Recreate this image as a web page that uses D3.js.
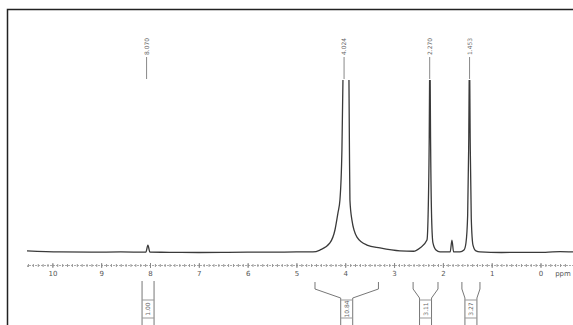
<!DOCTYPE html>
<html>
<head>
<meta charset="utf-8">
<script src="https://cdn.jsdelivr.net/npm/d3@7"></script>
<style>
  body { margin: 0; background: #fff; }
  svg { display: block; }
  .axis-text { font-family: 'DejaVu Sans', sans-serif; font-size: 7px; fill: #555; }
  .peak-text { font-family: 'DejaVu Sans', sans-serif; font-size: 6px; fill: #666; }
</style>
</head>
<body>
<div id="spectrum"></div>
<script>
// spectrum trace: chemical shift (ppm) and intensity (0 = baseline, 100 = top of plot)
const tracePpm = [10.52, 9.85, 9.2, 8.6, 8.2, 8.084, 8.043, 8.002, 7.6, 7.0, 6.4, 6.0, 5.5, 5.0,
  4.662, 4.518, 4.314, 4.211, 4.150, 4.109, 4.068, 4.047, 3.986, 3.924, 3.914, 3.904, 3.863, 3.760,
  3.555, 3.289, 2.879, 2.6, 2.469, 2.326, 2.300, 2.282, 2.272, 2.266, 2.260, 2.250, 2.230, 2.203, 2.141,
  2.059, 1.850, 1.814, 1.780, 1.650, 1.568, 1.527, 1.492, 1.472, 1.461, 1.455, 1.449, 1.438, 1.418,
  1.383, 1.322, 1.240, 0.8, 0.3, -0.1, -0.4, -0.666];
const traceInt = [1.2, 0.6, 0.5, 0.6, 0.5, 0.5, 4.6, 0.5, 0.4, 0.3, 0.4, 0.5, 0.5, 0.6,
  0.6, 1.7, 5.8, 13.3, 23.1, 30.6, 59.5, 100, 400, 100, 59.5, 30.6, 19, 9.2,
  4.6, 2.9, 1.2, 1.0, 2.9, 7.5, 25, 59.5, 100, 400, 100, 59.5, 20, 5.8, 1.7,
  0.6, 0.6, 7.5, 0.6, 0.6, 1.7, 5.8, 22, 59.5, 100, 400, 100, 59.5, 20,
  4.6, 1.2, 0.6, 0.3, 0.4, 0.4, 0.8, 0.6];

// peak picking labels
const peakPpm = [8.070, 4.024, 2.270, 1.453];
const peakLabels = ['8.070', '4.024', '2.270', '1.453'];

// integral regions
const intFrom = [8.10, 4.62, 2.61, 1.61];
const intTo = [7.98, 3.32, 2.10, 1.24];
const intValues = ['1.00', '10.84', '3.11', '3.27'];

// axis ticks
const majorTicks = [10, 9, 8, 7, 6, 5, 4, 3, 2, 1, 0];
const minorTicks = d3.range(105, -6, -1).map(d => d / 10);

const width = 573, height = 325;
const plotTop = 80, baseY = 253, axisY = 265;

const svg = d3.select('#spectrum')
  .append('svg')
  .attr('width', width)
  .attr('height', height);

const x = d3.scaleLinear().domain([10.52, -0.666]).range([27, 573]);
const y = d3.scaleLinear().domain([0, 100]).range([baseY, plotTop]);

// frame (top and left edge only)
svg.append('path')
  .attr('d', 'M7.5,' + height + 'V9.5H' + width)
  .attr('fill', 'none')
  .attr('stroke', '#222')
  .attr('stroke-width', 1.5);

svg.append('clipPath')
  .attr('id', 'plot-clip')
  .append('rect')
  .attr('x', 8)
  .attr('y', plotTop)
  .attr('width', width - 8)
  .attr('height', baseY - plotTop + 20);

// spectrum line
const line = d3.line()
  .x((d, i) => x(tracePpm[i]))
  .y((d, i) => y(traceInt[i]))
  .curve(d3.curveMonotoneX);

svg.append('path')
  .datum(tracePpm)
  .attr('clip-path', 'url(#plot-clip)')
  .attr('d', line)
  .attr('fill', 'none')
  .attr('stroke', '#3a3a3a')
  .attr('stroke-width', 1.3);

// x axis, minor ticks then labelled major ticks
const minorAxis = svg.append('g')
  .attr('transform', 'translate(0,' + axisY + ')')
  .call(d3.axisBottom(x).tickValues(minorTicks).tickSize(2).tickFormat(''));
minorAxis.select('path').attr('stroke', '#aaa').attr('stroke-dasharray', '2,1');
minorAxis.selectAll('g.tick line').attr('stroke', '#999').attr('y1', -1);

const majorAxis = svg.append('g')
  .attr('transform', 'translate(0,' + axisY + ')')
  .call(d3.axisBottom(x).tickValues(majorTicks).tickSize(3).tickPadding(3).tickFormat(d3.format('d')));
majorAxis.select('path').remove();
majorAxis.selectAll('g.tick line').attr('stroke', '#888').attr('y1', -2);
majorAxis.selectAll('g.tick text')
  .attr('class', 'axis-text')
  .attr('fill', null);

svg.append('text')
  .attr('class', 'axis-text')
  .attr('x', 563)
  .attr('y', axisY + 11)
  .attr('text-anchor', 'middle')
  .text('ppm');

// peak labels with leader lines
const peaks = svg.selectAll('.peak')
  .data(peakPpm)
  .enter().append('g')
  .attr('class', 'peak')
  .attr('transform', d => 'translate(' + x(d) + ',0)');

peaks.append('line')
  .attr('y1', 57)
  .attr('y2', 79)
  .attr('stroke', '#888')
  .attr('stroke-width', 1);

peaks.append('text')
  .attr('class', 'peak-text')
  .attr('transform', 'translate(2,55) rotate(-90)')
  .text((d, i) => peakLabels[i]);

// integral brackets
intFrom.forEach((from, i) => {
  const x0 = x(from), x1 = x(intTo[i]);
  const cx = (x0 + x1) / 2;
  const inner = 6;
  const g = svg.append('g').attr('class', 'integral');
  let d;
  if (x1 - x0 > 2 * inner + 2) {
    d = 'M' + x0 + ',282V289L' + (cx - inner) + ',298V325' +
      'M' + x1 + ',282V289L' + (cx + inner) + ',298V325';
  } else {
    d = 'M' + (cx - inner) + ',281V325M' + (cx + inner) + ',281V325';
  }
  g.append('path')
    .attr('d', d)
    .attr('fill', 'none')
    .attr('stroke', '#777')
    .attr('stroke-width', 1);

  g.append('line')
    .attr('x1', cx - inner).attr('x2', cx + inner)
    .attr('y1', 300).attr('y2', 300)
    .attr('stroke', '#999');
  g.append('line')
    .attr('x1', cx - inner).attr('x2', cx + inner)
    .attr('y1', 318).attr('y2', 318)
    .attr('stroke', '#999');

  g.append('text')
    .attr('class', 'peak-text')
    .attr('text-anchor', 'middle')
    .attr('transform', 'translate(' + (cx + 2) + ',309) rotate(-90)')
    .text(intValues[i]);
});
</script>
</body>
</html>
